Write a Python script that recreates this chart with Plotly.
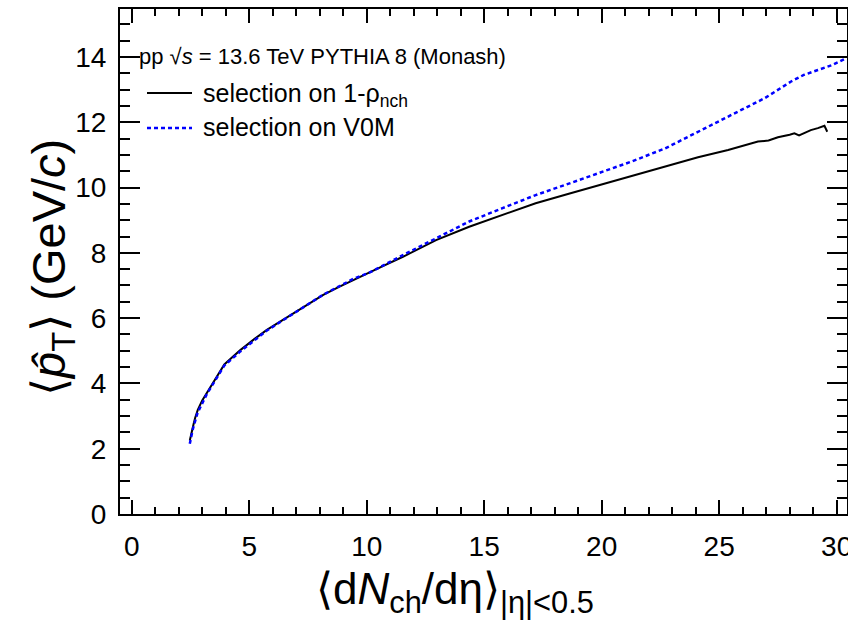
import plotly.graph_objects as go

# ---- data ----
x_rho = [2.47, 2.55, 2.64, 2.70, 2.81, 3.00, 3.21, 3.50, 3.75, 3.94, 4.30, 4.62, 5.20, 5.75,
         6.40, 7.02, 7.60, 8.15, 8.80, 9.42, 10.00, 10.55, 11.54, 12.95, 14.36, 15.78, 17.19,
         18.60, 19.87, 21.28, 22.70, 24.10, 25.38, 26.00, 26.65, 27.10, 27.50, 28.00, 28.20,
         28.40, 28.90, 29.20, 29.48, 29.60]
y_rho = [2.25, 2.55, 2.78, 2.95, 3.19, 3.48, 3.72, 4.05, 4.35, 4.58, 4.82, 5.02, 5.35, 5.64,
         5.93, 6.20, 6.47, 6.71, 6.95, 7.17, 7.38, 7.55, 7.88, 8.39, 8.80, 9.16, 9.52,
         9.81, 10.07, 10.36, 10.64, 10.93, 11.15, 11.27, 11.41, 11.44, 11.54, 11.62, 11.66,
         11.60, 11.76, 11.82, 11.89, 11.71]

x_v0m = [2.47, 2.60, 2.80, 3.20, 3.94, 4.62, 5.75, 7.02, 8.15, 9.42, 10.13, 11.54, 12.95,
         14.36, 15.78, 17.19, 18.60, 19.87, 21.28, 22.70, 24.10, 25.52, 26.94, 28.06, 28.60,
         29.20, 29.80, 30.40]
y_v0m = [2.15, 2.60, 3.10, 3.68, 4.55, 4.98, 5.62, 6.20, 6.72, 7.20, 7.40, 7.93, 8.45,
         8.96, 9.37, 9.77, 10.12, 10.44, 10.80, 11.20, 11.71, 12.22, 12.74, 13.25, 13.45,
         13.60, 13.75, 13.96]

x_ticks = [0, 5, 10, 15, 20, 25, 30]
y_ticks = [0, 2, 4, 6, 8, 10, 12, 14]

name_rho = "selection on 1-ρ<sub>nch</sub>"
name_v0m = "selection on V0M"
header = "pp √<i>s</i> = 13.6 TeV PYTHIA 8 (Monash)"
x_title = "⟨d<i>N</i><sub>ch</sub>/dη⟩<sub>|η|&lt;0.5</sub>"
y_title = "⟨<i>p̂</i><sub>T</sub>⟩ (GeV/<i>c</i>)"

# ---- layout geometry (pixels of the 848x628 page) ----
W, H = 848, 628
L, R, T, B = 120, 847, 9, 514
FONT = "Liberation Sans, Arial, Helvetica, sans-serif"


def px(xp):
    return (xp - L) / (R - L)


def py(yp):
    return (B - yp) / (B - T)


fig = go.Figure()
fig.add_trace(go.Scatter(x=x_rho, y=y_rho, mode="lines", name=name_rho,
                         line=dict(color="black", width=2), showlegend=False))
fig.add_trace(go.Scatter(x=x_v0m, y=y_v0m, mode="lines", name=name_v0m,
                         line=dict(color="#0000ff", width=2.5, dash="4px,3px"),
                         showlegend=False))

axis_common = dict(showline=True, linecolor="black", linewidth=2, mirror="allticks",
                   ticks="inside", tickcolor="black", tickwidth=1.5, showgrid=False,
                   zeroline=False, automargin=False, ticklabeloverflow="allow",
                   tickfont=dict(family=FONT, size=28, color="black"))

fig.update_xaxes(range=[-0.5, 30.44], tickvals=x_ticks, ticklen=14,
                 minor=dict(dtick=1, ticks="inside", ticklen=7, tickcolor="black",
                            tickwidth=1.5, showgrid=False),
                 ticklabelstandoff=6, **axis_common)
fig.update_yaxes(range=[0, 15.47], tickvals=y_ticks, ticklen=20,
                 minor=dict(dtick=0.5, ticks="inside", ticklen=10, tickcolor="black",
                            tickwidth=1.5, showgrid=False),
                 ticklabelstandoff=6, **axis_common)

ann = []
ann.append(dict(text=header, x=px(137), y=py(57), xanchor="left", yanchor="middle",
                font=dict(family=FONT, size=22, color="black")))
ann.append(dict(text=name_rho, x=px(201), y=py(95), xanchor="left", yanchor="middle",
                font=dict(family=FONT, size=25, color="black")))
ann.append(dict(text=name_v0m, x=px(201), y=py(127), xanchor="left", yanchor="middle",
                font=dict(family=FONT, size=25, color="black")))
ann.append(dict(text=x_title, x=px(455), y=py(592), xanchor="center", yanchor="middle",
                font=dict(family=FONT, size=44, color="black")))
ann.append(dict(text=y_title, x=px(52), y=py(268), xanchor="center", yanchor="middle",
                textangle=-90, font=dict(family=FONT, size=47, color="black")))
for a in ann:
    a.update(xref="paper", yref="paper", showarrow=False)

shapes = [
    dict(type="line", xref="paper", yref="paper", x0=px(147), x1=px(192), y0=py(93), y1=py(93),
         line=dict(color="black", width=2)),
    dict(type="line", xref="paper", yref="paper", x0=px(147), x1=px(192), y0=py(128), y1=py(128),
         line=dict(color="#0000ff", width=2.5, dash="4px,3px")),
]

fig.update_layout(width=W, height=H, margin=dict(l=L, r=W - R, t=T, b=H - B),
                  paper_bgcolor="white", plot_bgcolor="white",
                  annotations=ann, shapes=shapes, showlegend=False)

# remove the browser's default 8px page margin so the figure fills the window
fig.write_html("out.html",
               config={"displayModeBar": False},
               post_script="document.body.style.margin='0';"
                           "document.body.style.overflow='hidden';")
